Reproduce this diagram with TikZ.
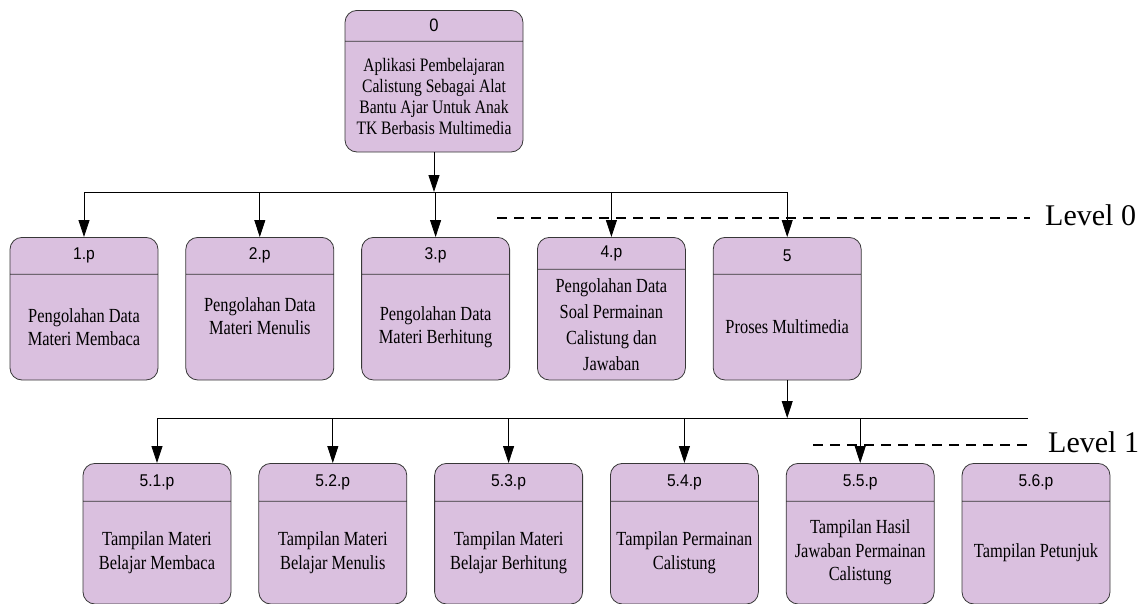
\documentclass[tikz,border=0pt]{standalone}
\usepackage{fontspec}
\setmainfont[FakeStretch=0.82]{Liberation Serif}
\setsansfont[FakeStretch=0.92]{Liberation Sans}
\newfontfamily\lvlfont{Liberation Serif}
\usetikzlibrary{positioning,shapes.multipart,arrows.meta}

\definecolor{procfill}{RGB}{218,192,223}
\definecolor{procline}{RGB}{55,55,55}

% header and body parts of a process box
\newcommand{\hd}[3][148pt]{\parbox[c][#2]{#1}{\centering\sffamily\fontsize{17}{19}\selectfont #3}}
\newcommand{\bd}[3][148pt]{\parbox[c][#2]{#1}{\centering\fontsize{20}{22.5}\selectfont #3}}

\begin{document}
\begin{tikzpicture}[x=1pt, y=-1pt, node distance=27pt,
	proc/.style={rectangle split, rectangle split parts=2, draw=procline, fill=procfill, line width=.8pt, rounded corners=12pt, inner sep=0pt},
	arr/.style={-{Triangle[length=17pt,width=11pt]}, line width=.8pt},
	bus/.style={line width=.8pt},
	lvl/.style={dash pattern=on 10pt off 7pt, line width=2.5pt},
	lbl/.style={font=\lvlfont\fontsize{30}{32}\selectfont, inner sep=0pt, anchor=base west}]
	\useasboundingbox (0,0) rectangle (1148,603);

	% top process
	\node[proc, anchor=north] (P0) at (434,10) {\hd[178pt]{30pt}{\fontsize{18}{20}\selectfont 0}\nodepart{two}\bd[178pt]{110pt}{\fontsize{19}{21}\selectfont Aplikasi Pembelajaran\\Calistung Sebagai Alat\\Bantu Ajar Untuk Anak\\TK Berbasis Multimedia}};

	% level 0
	\node[proc, anchor=north] (P1) at (84,237) {\hd{36pt}{1.p}\nodepart{two}\bd{105pt}{Pengolahan Data\\Materi Membaca}};
	\node[proc, right=of P1] (P2) {\hd{36pt}{2.p}\nodepart{two}\bd{105pt}{Pengolahan Data\\Materi Menulis\\\mbox{}}};
	\node[proc, right=of P2] (P3) {\hd{36pt}{3.p}\nodepart{two}\bd{105pt}{Pengolahan Data\\Materi Berhitung}};
	\node[proc, right=of P3] (P4) {\hd{31pt}{4.p}\nodepart{two}\bd{110pt}{\fontsize{20}{26}\selectfont Pengolahan Data\\Soal Permainan\\Calistung dan\\Jawaban}};
	\node[proc, right=of P4] (P5) {\hd{36pt}{5}\nodepart{two}\bd{105pt}{Proses Multimedia}};

	% level 1
	\node[proc, anchor=north] (S1) at (157,463) {\hd{37pt}{5.1.p}\nodepart{two}\bd{102pt}{\fontsize{20}{23.5}\selectfont Tampilan Materi\\Belajar Membaca}};
	\node[proc, right=of S1] (S2) {\hd{37pt}{5.2.p}\nodepart{two}\bd{102pt}{\fontsize{20}{23.5}\selectfont Tampilan Materi\\Belajar Menulis}};
	\node[proc, right=of S2] (S3) {\hd{37pt}{5.3.p}\nodepart{two}\bd{102pt}{\fontsize{20}{23.5}\selectfont Tampilan Materi\\Belajar Berhitung}};
	\node[proc, right=of S3] (S4) {\hd{37pt}{5.4.p}\nodepart{two}\bd{102pt}{\fontsize{20}{23.5}\selectfont Tampilan Permainan\\Calistung}};
	\node[proc, right=of S4] (S5) {\hd{37pt}{5.5.p}\nodepart{two}\bd{102pt}{\fontsize{20}{23.5}\selectfont Tampilan Hasil\\Jawaban Permainan\\Calistung}};
	\node[proc, right=of S5] (S6) {\hd{37pt}{5.6.p}\nodepart{two}\bd{102pt}{Tampilan Petunjuk}};

	% level markers
	\coordinate (d0a) at (497,218);
	\coordinate (d0b) at (1030,218);
	\draw[lvl] (d0a) -- (d0b);
	\node[lbl] (L0) at (1045,225) {Level 0};
	\coordinate (d1a) at (813,445);
	\coordinate (d1b) at (1028,445);
	\draw[lvl] (d1a) -- (d1b);
	\node[lbl] (L1) at (1048,452) {Level 1};

	% connectors
	\coordinate (bus0) at (0,192);
	\coordinate (bus1) at (0,418);
	\coordinate (bus1end) at (1028,418);
	\draw[arr] (P0.south) -- (P0.south |- bus0);
	\draw[bus] (P1.north |- bus0) -- (P5.north |- bus0);
	\foreach \n in {P1,P2,P3,P4,P5}
		\draw[arr] (\n.north |- bus0) -- (\n.north);
	\draw[arr] (P5.south) -- (P5.south |- bus1);
	\draw[bus] (S1.north |- bus1) -- (bus1end);
	\foreach \n in {S1,S2,S3,S4,S5}
		\draw[arr] (\n.north |- bus1) -- (\n.north);
\end{tikzpicture}
\end{document}
